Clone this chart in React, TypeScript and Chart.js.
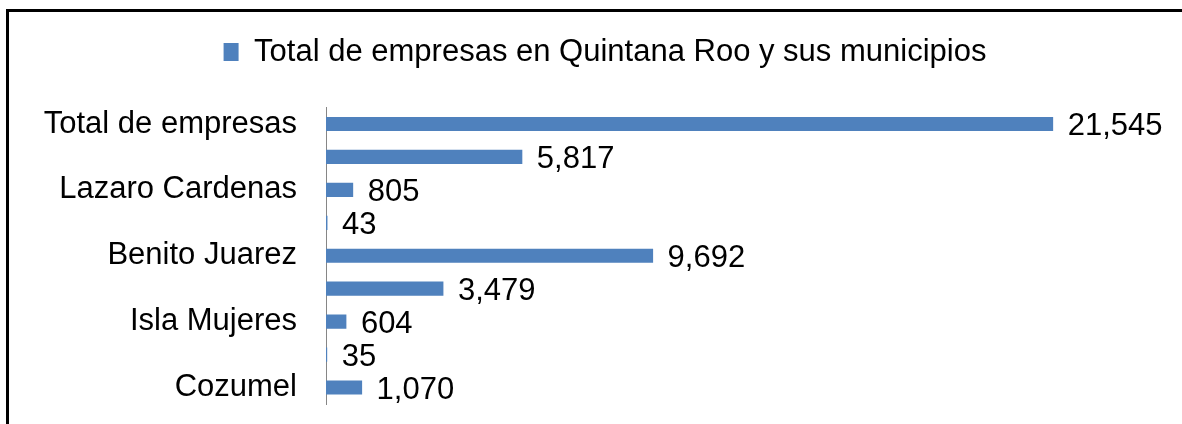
import React, { useEffect, useRef } from "react";
import { Chart, registerables } from "chart.js";

Chart.register(...registerables);

const seriesName = "Total de empresas en Quintana Roo y sus municipios";
const categories = [
  "Total de empresas",
  "Solidaridad",
  "Lazaro Cardenas",
  "Jose Maria Morelos",
  "Benito Juarez",
  "Othon P. Blanco",
  "Isla Mujeres",
  "Felipe Carrillo Puerto",
  "Cozumel",
];
const values = [21545, 5817, 805, 43, 9692, 3479, 604, 35, 1070];
const xMin = 0;
const xMax = 24000;

const FONT = "'Liberation Sans', Arial, sans-serif";

const dataLabels = {
  id: "dataLabels",
  afterDatasetsDraw(chart: any) {
    const ctx = chart.ctx;
    const meta = chart.getDatasetMeta(0);
    ctx.save();
    ctx.font = `31px ${FONT}`;
    ctx.fillStyle = "#000";
    ctx.textAlign = "left";
    ctx.textBaseline = "alphabetic";
    meta.data.forEach((el: any, i: number) => {
      const v = chart.data.datasets[0].data[i] as number;
      ctx.fillText(v.toLocaleString("en-US"), el.x + 14.5, el.y + 11);
    });
    ctx.restore();
  },
};

const legendShift = {
  id: "legendShift",
  afterLayout(chart: any) {
    const l = chart.legend;
    if (l) {
      l.left += 32.5;
      l.right += 32.5;
    }
  },
};

export default function App() {
  const ref = useRef<HTMLCanvasElement | null>(null);
  useEffect(() => {
    if (!ref.current) return;
    const chart = new Chart(ref.current, {
      type: "bar",
      data: {
        labels: categories,
        datasets: [
          {
            label: seriesName,
            data: values,
            backgroundColor: "#4F81BD",
            borderWidth: 0,
            categoryPercentage: 1,
            barPercentage: 0.43,
          },
        ],
      },
      options: {
        indexAxis: "y",
        responsive: false,
        maintainAspectRatio: false,
        animation: false,
        layout: { padding: { top: 14.5, left: 0, right: 46, bottom: 20 } },
        plugins: {
          legend: {
            position: "top",
            labels: {
              boxWidth: 15,
              boxHeight: 18,
              padding: 10,
              color: "#000",
              font: { family: FONT, size: 31 },
            },
          },
          tooltip: { enabled: false },
        },
        scales: {
          x: {
            position: "top",
            min: xMin,
            max: xMax,
            display: true,
            ticks: { display: false },
            grid: { display: false, drawTicks: false },
            border: { display: false },
            afterFit: (s: any) => {
              s.height = 30;
              s.paddingLeft = 0;
              s.paddingRight = 0;
            },
          },
          y: {
            grid: { display: false, drawTicks: false },
            border: { display: true, color: "#868686", width: 1 },
            ticks: {
              autoSkip: false,
              padding: 29,
              color: "#000",
              font: { family: FONT, size: 31 },
              callback: (_v: any, i: number) => (i % 2 === 0 ? categories[i] : ""),
            },
            afterFit: (s: any) => {
              s.width = 317;
              s.paddingTop = 0;
              s.paddingBottom = 0;
            },
          },
        },
      },
      plugins: [dataLabels, legendShift],
    } as any);
    return () => chart.destroy();
  }, []);

  return (
    <div
      style={{
        position: "fixed",
        left: 0,
        top: 0,
        width: "100vw",
        height: "100vh",
        overflow: "hidden",
        background: "#fff",
      }}
    >
      <div
        style={{
          position: "absolute",
          left: 6,
          top: 9,
          width: 1176,
          height: 415,
          borderLeft: "3px solid #000",
          borderTop: "3px solid #000",
          boxSizing: "border-box",
        }}
      >
        <canvas ref={ref} width={1173} height={412} style={{ display: "block" }} />
      </div>
    </div>
  );
}
